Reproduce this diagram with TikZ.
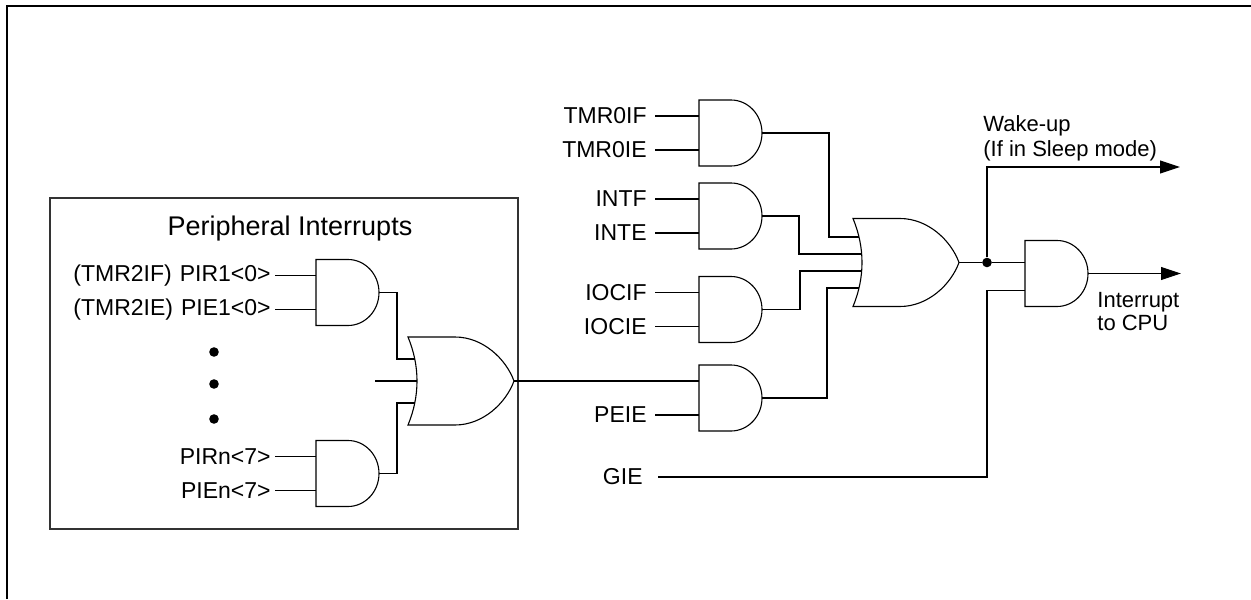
\documentclass[tikz,border=0pt]{standalone}
\usepackage{fontspec}
\setmainfont{Liberation Sans}
\usetikzlibrary{calc,arrows.meta}
\tikzset{
  gate/.style={line width=0.55pt},
  wire/.style={line width=0.55pt},
  flow/.style={line width=0.55pt, -{Triangle[length=10pt,width=6.5pt]}},
  frame/.style={line width=1pt},
  pbox/.style={line width=0.6pt, draw=black!80},
  lbl/.style={inner xsep=4pt, inner ysep=0pt, font=\fontsize{11.5}{13}\selectfont},
  plbl/.style={lbl, inner xsep=2pt},
  note/.style={inner sep=0pt, align=left, font=\fontsize{11}{12.5}\selectfont},
  ptitle/.style={inner sep=0pt, font=\fontsize{13.5}{16}\selectfont},
  jdot/.style={circle, fill=black, inner sep=0pt, minimum size=4.8pt}
}
% and gate: name, left x, middle y
\def\andgate(#1)(#2,#3){%
  \draw[gate] (#2,#3-33) -- (#2+32,#3-33) arc[start angle=-90, end angle=90, x radius=31, y radius=33] -- (#2,#3+33) -- cycle;
  \coordinate (#1) at (#2,#3);
  \coordinate (#1-a) at (#2,#3-17);
  \coordinate (#1-b) at (#2,#3+17);
  \coordinate (#1-o) at (#2+63,#3);}
% or gate: name, back x, middle y
\def\orgate(#1)(#2,#3){%
  \draw[gate] (#2,#3-44) -- (#2+47,#3-44) .. controls (#2+75,#3-44) and (#2+98,#3-22) .. (#2+106,#3) .. controls (#2+98,#3+22) and (#2+75,#3+44) .. (#2+47,#3+44) -- (#2,#3+44) .. controls (#2+12,#3+15) and (#2+12,#3-15) .. cycle;
  \coordinate (#1) at (#2,#3);
  \coordinate (#1-o) at (#2+106,#3);}

\begin{document}
\begin{tikzpicture}[x=0.5pt, y=-0.5pt]
	%%%%% START %%%%%
	\useasboundingbox (0,0) rectangle (1251,599);
	\draw[frame] (7,599) -- (7,6) -- (1251,6);
	
	%%%%% PERIPHERAL %%%%%
	\draw[pbox] (50,198) rectangle (518,529);
	\node[ptitle, anchor=base] (title) at (290,235) {Peripheral Interrupts};
	
	\andgate(p1)(316,292.5)
	\andgate(pn)(316,473.5)
	\orgate(po)(408,381)
	\coordinate (po-a) at ($(po)+(6.75,-22)$);
	\coordinate (po-b) at ($(po)+(9,0)$);
	\coordinate (po-c) at ($(po)+(6.75,22)$);
	\coordinate (stub) at ($(po-b)+(-42,0)$);
	
	\node[plbl, anchor=east] (pir1) at ($(p1-a)+(-41,0)$) {(TMR2IF)\hspace{4pt}PIR1<0>};
	\node[plbl, anchor=east] (pie1) at ($(p1-b)+(-41,0)$) {(TMR2IE)\hspace{4pt}PIE1<0>};
	\node[plbl, anchor=east] (pirn) at ($(pn-a)+(-41,0)$) {PIRn<7>};
	\node[plbl, anchor=east] (pien) at ($(pn-b)+(-41,0)$) {PIEn<7>};
	\foreach \y/\n in {352/d1, 384/d2, 419/d3}
		\node[jdot] (\n) at (214,\y) {};
	
	\draw[wire] (pir1) -- (p1-a);
	\draw[wire] (pie1) -- (p1-b);
	\draw[wire] (pirn) -- (pn-a);
	\draw[wire] (pien) -- (pn-b);
	\draw[wire] (p1-o) -- ++(18,0) |- (po-a);
	\draw[wire] (pn-o) -- ++(18,0) |- (po-c);
	\draw[wire] (stub) -- (po-b);
	
	%%%%% SOURCES %%%%%
	\andgate(t0)(699,133)
	\andgate(ti)(699,216)
	\andgate(io)(699,309.5)
	\andgate(pe)(699,398)
	\orgate(mo)(853,262.5)
	\coordinate (mo-a) at ($(mo)+(5.97,-25.5)$);
	\coordinate (mo-b) at ($(mo)+(8.67,-8.5)$);
	\coordinate (mo-c) at ($(mo)+(8.67,8.5)$);
	\coordinate (mo-d) at ($(mo)+(5.97,25.5)$);
	
	\node[lbl, anchor=east] (tmrif) at ($(t0-a)+(-44,0)$) {TMR0IF};
	\node[lbl, anchor=east] (tmrie) at ($(t0-b)+(-44,0)$) {TMR0IE};
	\node[lbl, anchor=east] (intf) at ($(ti-a)+(-44,0)$) {INTF};
	\node[lbl, anchor=east] (inte) at ($(ti-b)+(-44,0)$) {INTE};
	\node[lbl, anchor=east] (iocif) at ($(io-a)+(-44,0)$) {IOCIF};
	\node[lbl, anchor=east] (iocie) at ($(io-b)+(-44,0)$) {IOCIE};
	\node[lbl, anchor=east] (peie) at ($(pe-b)+(-44,0)$) {PEIE};
	\node[lbl, anchor=east, inner xsep=7.5pt] (gie) at (658,477) {GIE};
	
	\draw[wire] (tmrif) -- (t0-a);
	\draw[wire] (tmrie) -- (t0-b);
	\draw[wire] (intf) -- (ti-a);
	\draw[wire] (inte) -- (ti-b);
	\draw[wire] (iocif) -- (io-a);
	\draw[wire] (iocie) -- (io-b);
	\draw[wire] (peie) -- (pe-b);
	\draw[wire] (po-o) -- (pe-a);
	
	\draw[wire] (t0-o) -- ++(67,0) |- (mo-a);
	\draw[wire] (ti-o) -- ++(37,0) |- (mo-b);
	\draw[wire] (io-o) -- ++(38,0) |- (mo-c);
	\draw[wire] (pe-o) -- ++(65,0) |- (mo-d);
	
	%%%%% OUTPUT %%%%%
	\node[jdot] (jn) at ($(mo-o)+(28,0)$) {};
	\andgate(fa)(1025,273.5)
	\coordinate (wk) at (1180,167);
	\coordinate (cpu) at (1181,273.5);
	
	\draw[wire] (mo-o) -- (jn);
	\draw[wire] (jn) -- (jn -| fa);
	\draw[flow] (jn) |- (wk);
	\draw[flow] (fa-o) -- (cpu);
	\draw[wire] (gie) -- (gie -| jn) |- (fa-b);
	
	\node[note, anchor=north west] (wake) at (983,115) {Wake-up\\(If in Sleep mode)};
	\node[note, anchor=north west, font=\fontsize{11}{11.5}\selectfont] (tocpu) at (1097,292) {Interrupt\\to CPU};
	%%%%% END %%%%%
\end{tikzpicture}
\end{document}
